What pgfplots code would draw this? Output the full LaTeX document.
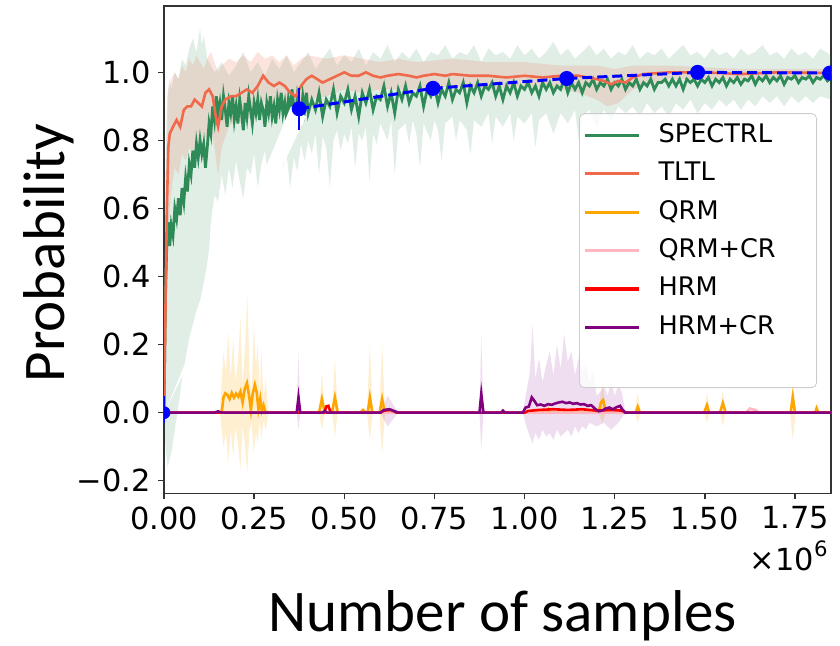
\documentclass[border=0pt]{standalone}
\usepackage{fontspec}
\setmainfont{DejaVu Sans}
\newfontfamily\carlito{Carlito}
\usepackage{pgfplots}
\pgfplotsset{compat=1.18}
\usepgfplotslibrary{fillbetween}
\definecolor{cgreen}{HTML}{2E8B57}
\definecolor{ctltl}{HTML}{F0694A}
\definecolor{cqrm}{HTML}{FFA500}
\definecolor{cqrmcr}{HTML}{FFB6C1}
\definecolor{chrm}{HTML}{FF0000}
\definecolor{chrmcr}{HTML}{800080}
\newcommand{\lentry}[1]{\hspace{7pt}\makebox[75pt][l]{#1}}
\begin{document}
\begin{tikzpicture}
\begin{axis}[
  name=ax, at={(0,0)}, anchor=south west,
  scale only axis, width=333.5pt, height=243.65pt,
  xmin=0, xmax=1.85, ymin=-0.237, ymax=1.195,
  clip marker paths=true,
  axis line style={draw=black!80, line width=0.7pt},
  every tick/.style={draw=black!80, line width=0.7pt},
  tick align=outside, major tick length=3pt,
  xtick pos=left, ytick pos=left,
  xtick={0,0.25,0.5,0.75,1.0,1.25,1.5,1.75},
  xticklabels={0.00,0.25,0.50,0.75,1.00,1.25,1.50,1.75},
  ytick={-0.2,0,0.2,0.4,0.6,0.8,1.0},
  yticklabels={−0.2,0.0,0.2,0.4,0.6,0.8,1.0},
  ticklabel style={font=\fontsize{15.2}{18}\selectfont, inner sep=3.5pt},
  xlabel={Number of samples}, ylabel={Probability},
  label style={font=\carlito\fontsize{29.5}{34}\selectfont},
  xlabel style={at={([yshift=-68.9pt]axis description cs:0.508,0)}, anchor=base},
  ylabel style={at={([xshift=-49.5pt]axis description cs:0,0.493)}, anchor=base, rotate=0},
  legend style={at={(0.979,0.78)}, anchor=north east, draw=black!20, rounded corners=2.5pt,
    fill=white, fill opacity=0.8, text opacity=1, inner xsep=2pt, inner ysep=2.8pt,
    row sep=3pt, font=\fontsize{12.8}{15}\selectfont,
    nodes={inner sep=2pt, text height=9.5pt, text depth=2.7pt}},
  legend cell align=left,
  legend image code/.code={\draw[#1, line width=1.6pt] (0pt,0pt) -- (27pt,0pt);},
]
% ---------------- SPECTRL band
\addplot[name path=gU, draw=none, forget plot] table {
x y
0.000 0.00
0.004 0.70
0.008 0.92
0.015 0.98
0.020 0.95
0.030 1.00
0.040 0.98
0.050 1.04
0.060 1.02
0.070 1.07
0.080 1.10
0.090 1.06
0.100 1.13
0.105 1.08
0.110 1.11
0.120 1.04
0.130 1.02
0.140 1.00
0.160 1.03
0.180 0.99
0.200 1.02
0.220 1.06
0.240 1.00
0.260 1.03
0.280 0.99
0.300 1.04
0.320 1.01
0.340 1.05
0.360 1.00
0.380 1.03
0.400 1.06
0.420 1.01
0.440 1.04
0.460 1.07
0.480 1.02
0.500 1.05
0.520 1.03
0.540 1.07
0.560 1.02
0.580 1.06
0.600 1.04
0.620 1.08
0.640 1.03
0.660 1.06
0.680 1.04
0.700 1.07
0.720 1.03
0.740 1.06
0.760 1.05
0.780 1.08
0.800 1.04
0.820 1.06
0.840 1.05
0.860 1.08
0.880 1.03
0.900 1.07
0.920 1.05
0.940 1.06
0.960 1.04
0.980 1.08
1.000 1.05
1.020 1.07
1.040 1.04
1.060 1.06
1.080 1.09
1.100 1.05
1.120 1.07
1.140 1.04
1.160 1.06
1.180 1.08
1.200 1.05
1.220 1.07
1.240 1.04
1.260 1.06
1.280 1.05
1.300 1.08
1.320 1.04
1.340 1.06
1.360 1.05
1.380 1.07
1.400 1.04
1.420 1.06
1.440 1.08
1.460 1.05
1.480 1.06
1.500 1.04
1.520 1.07
1.540 1.05
1.560 1.06
1.580 1.04
1.600 1.07
1.620 1.05
1.640 1.06
1.660 1.08
1.680 1.05
1.700 1.06
1.720 1.04
1.740 1.07
1.760 1.05
1.780 1.06
1.800 1.04
1.820 1.07
1.850 1.05
};
\addplot[name path=gL, draw=none, forget plot] table {
x y
0.000 0.00
0.004 -0.10
0.010 -0.16
0.020 -0.12
0.030 -0.05
0.040 0.02
0.050 0.10
0.060 0.16
0.070 0.22
0.080 0.26
0.090 0.30
0.100 0.33
0.110 0.38
0.120 0.44
0.125 0.48
0.130 0.56
0.140 0.64
0.150 0.62
0.160 0.70
0.170 0.64
0.180 0.72
0.190 0.66
0.200 0.74
0.210 0.68
0.220 0.63
0.230 0.72
0.240 0.70
0.250 0.76
0.260 0.66
0.270 0.73
0.280 0.77
0.290 0.68
0.300 0.75
0.310 0.71
0.320 0.78
0.330 0.72
0.340 0.76
0.350 0.66
0.360 0.75
0.370 0.71
0.380 0.79
0.390 0.74
0.400 0.80
0.410 0.76
0.420 0.82
0.430 0.70
0.440 0.81
0.450 0.78
0.460 0.66
0.470 0.80
0.480 0.83
0.490 0.77
0.500 0.82
0.510 0.79
0.520 0.84
0.530 0.72
0.540 0.82
0.550 0.80
0.560 0.84
0.570 0.68
0.580 0.82
0.590 0.79
0.600 0.85
0.620 0.80
0.630 0.86
0.640 0.70
0.650 0.83
0.670 0.85
0.680 0.79
0.690 0.86
0.700 0.82
0.710 0.72
0.720 0.85
0.740 0.80
0.750 0.86
0.760 0.83
0.770 0.74
0.780 0.85
0.800 0.87
0.810 0.80
0.820 0.86
0.840 0.83
0.850 0.76
0.860 0.86
0.880 0.84
0.900 0.88
0.910 0.79
0.920 0.87
0.940 0.84
0.960 0.88
0.970 0.80
0.980 0.87
1.000 0.85
1.020 0.88
1.030 0.78
1.040 0.86
1.060 0.88
1.080 0.82
1.100 0.88
1.120 0.85
1.140 0.89
1.150 0.80
1.160 0.87
1.180 0.89
1.200 0.84
1.220 0.89
1.240 0.86
1.260 0.90
1.280 0.88
1.300 0.90
1.320 0.87
1.340 0.91
1.360 0.88
1.380 0.90
1.400 0.87
1.420 0.91
1.440 0.89
1.460 0.92
1.480 0.88
1.500 0.91
1.520 0.89
1.540 0.92
1.560 0.90
1.580 0.92
1.600 0.89
1.620 0.92
1.640 0.90
1.660 0.93
1.680 0.91
1.700 0.93
1.720 0.90
1.740 0.93
1.760 0.91
1.780 0.93
1.800 0.91
1.820 0.93
1.850 0.92
};
\addplot[cgreen, fill opacity=0.15, draw=none, forget plot] fill between[of=gU and gL];
% ---------------- TLTL band
\addplot[name path=tU, draw=none, forget plot] table {
x y
0.000 0.00
0.004 0.45
0.008 0.80
0.012 0.95
0.020 0.98
0.030 1.00
0.040 0.98
0.050 1.02
0.060 1.00
0.070 1.04
0.080 1.02
0.090 1.05
0.100 1.03
0.110 1.01
0.120 1.04
0.130 1.06
0.140 1.03
0.150 1.00
0.160 1.02
0.180 1.04
0.200 1.03
0.220 1.05
0.240 1.03
0.260 1.06
0.280 1.04
0.300 1.05
0.320 1.03
0.340 1.05
0.360 1.02
0.380 1.04
0.400 1.05
0.450 1.04
0.500 1.05
0.550 1.04
0.600 1.03
0.650 1.04
0.700 1.03
0.800 1.04
0.900 1.03
1.000 1.03
1.100 1.02
1.200 1.02
1.250 1.01
1.300 1.02
1.400 1.02
1.600 1.01
1.850 1.01
};
\addplot[name path=tL, draw=none, forget plot] table {
x y
0.000 0.00
0.004 0.10
0.008 0.35
0.012 0.55
0.020 0.65
0.030 0.72
0.040 0.70
0.050 0.76
0.060 0.74
0.070 0.78
0.080 0.76
0.090 0.80
0.100 0.79
0.110 0.82
0.120 0.80
0.130 0.84
0.140 0.78
0.150 0.70
0.160 0.78
0.180 0.84
0.200 0.86
0.220 0.85
0.240 0.87
0.260 0.89
0.280 0.92
0.300 0.90
0.320 0.89
0.340 0.87
0.360 0.85
0.380 0.88
0.400 0.92
0.450 0.93
0.500 0.95
0.550 0.94
0.600 0.95
0.700 0.95
0.800 0.96
0.900 0.95
1.000 0.96
1.100 0.95
1.150 0.94
1.200 0.92
1.230 0.90
1.260 0.91
1.300 0.95
1.400 0.98
1.600 0.98
1.850 0.985
};
\addplot[ctltl, fill opacity=0.18, draw=none, forget plot] fill between[of=tU and tL];
% ---------------- QRM band
\addplot[name path=qU, draw=none, forget plot] table {
x y
0 0
0.155 0
0.165 0.18
0.172 0.12
0.178 0.24
0.185 0.10
0.192 0.22
0.198 0.09
0.205 0.15
0.212 0.28
0.218 0.08
0.225 0.20
0.231 0.35
0.237 0.12
0.243 0.05
0.249 0.26
0.255 0.14
0.260 0.20
0.266 0.05
0.270 0.18
0.276 0.04
0.282 0.10
0.290 0
0.430 0
0.438 0.12
0.446 0
0.466 0
0.474 0.16
0.482 0
0.563 0
0.571 0.20
0.579 0
0.597 0
0.605 0.20
0.613 0
1.205 0
1.216 0.09
1.226 0
1.306 0
1.314 0.06
1.322 0
1.498 0
1.506 0.06
1.514 0
1.542 0
1.550 0.07
1.558 0
1.736 0
1.744 0.10
1.752 0
1.850 0
};
\addplot[name path=qL, draw=none, forget plot] table {
x y
0 0
0.155 0
0.165 -0.10
0.172 -0.06
0.178 -0.15
0.185 -0.05
0.192 -0.13
0.198 -0.04
0.205 -0.09
0.212 -0.17
0.218 -0.04
0.225 -0.10
0.231 -0.18
0.237 -0.05
0.243 -0.03
0.249 -0.12
0.255 -0.06
0.260 -0.09
0.266 -0.02
0.270 -0.08
0.276 -0.02
0.282 -0.05
0.290 0
0.430 0
0.438 -0.05
0.446 0
0.466 0
0.474 -0.07
0.482 0
0.563 0
0.571 -0.08
0.579 0
0.597 0
0.605 -0.12
0.613 0
1.205 0
1.216 -0.03
1.226 0
1.306 0
1.314 -0.03
1.322 0
1.498 0
1.506 -0.03
1.514 0
1.542 0
1.550 -0.04
1.558 0
1.736 0
1.744 -0.08
1.752 0
1.850 0
};
\addplot[cqrm, fill opacity=0.18, draw=none, forget plot] fill between[of=qU and qL];
% ---------------- HRM+CR band
\addplot[name path=pU, draw=none, forget plot] table {
x y
0 0
0.368 0
0.373 0.18
0.378 0
0.600 0
0.620 0.05
0.650 0
0.875 0
0.880 0.23
0.886 0
0.995 0
1.005 0.06
1.015 0.12
1.022 0.26
1.030 0.10
1.040 0.16
1.050 0.09
1.060 0.14
1.070 0.18
1.080 0.11
1.090 0.20
1.100 0.13
1.110 0.23
1.120 0.15
1.130 0.18
1.140 0.11
1.150 0.16
1.160 0.12
1.170 0.14
1.180 0.09
1.190 0.12
1.200 0.05
1.210 0.06
1.220 0.08
1.230 0.05
1.240 0.09
1.250 0.05
1.260 0.08
1.270 0.06
1.280 0
1.850 0
};
\addplot[name path=pL, draw=none, forget plot] table {
x y
0 0
0.368 0
0.373 -0.05
0.378 0
0.600 0
0.620 -0.04
0.650 0
0.875 0
0.880 -0.11
0.886 0
0.995 0
1.005 -0.04
1.015 -0.07
1.022 -0.09
1.030 -0.06
1.040 -0.08
1.050 -0.05
1.060 -0.07
1.070 -0.06
1.080 -0.08
1.090 -0.05
1.100 -0.07
1.110 -0.06
1.120 -0.05
1.130 -0.07
1.140 -0.04
1.150 -0.06
1.160 -0.04
1.170 -0.05
1.180 -0.03
1.200 -0.04
1.220 -0.03
1.240 -0.05
1.260 -0.03
1.280 0
1.850 0
};
\addplot[chrmcr, fill opacity=0.13, draw=none, forget plot] fill between[of=pU and pL];
% ---------------- SPECTRL mean
\addplot[cgreen, line width=1.4pt, forget plot] table {
x y
0.000 0.00
0.004 0.35
0.008 0.50
0.012 0.56
0.016 0.49
0.020 0.55
0.025 0.52
0.030 0.60
0.035 0.57
0.040 0.63
0.045 0.58
0.050 0.66
0.055 0.62
0.060 0.69
0.065 0.65
0.070 0.73
0.075 0.70
0.080 0.77
0.085 0.72
0.090 0.79
0.095 0.75
0.100 0.80
0.105 0.76
0.110 0.79
0.115 0.72
0.120 0.78
0.125 0.85
0.130 0.82
0.135 0.90
0.140 0.86
0.145 0.93
0.150 0.88
0.155 0.91
0.160 0.86
0.165 0.93
0.170 0.89
0.175 0.84
0.180 0.91
0.185 0.88
0.190 0.93
0.195 0.86
0.200 0.90
0.205 0.85
0.210 0.92
0.215 0.88
0.220 0.83
0.225 0.91
0.230 0.87
0.235 0.93
0.240 0.89
0.245 0.85
0.250 0.91
0.255 0.88
0.260 0.92
0.265 0.86
0.270 0.91
0.275 0.89
0.280 0.84
0.285 0.91
0.290 0.88
0.295 0.93
0.300 0.87
0.305 0.90
0.310 0.85
0.315 0.92
0.320 0.89
0.325 0.94
0.330 0.88
0.335 0.91
0.340 0.86
0.345 0.92
0.350 0.89
0.355 0.95
0.360 0.90
0.365 0.86
0.370 0.93
0.375 0.90
0.380 0.87
0.385 0.93
0.390 0.89
0.395 0.94
0.400 0.88
0.410 0.92
0.420 0.89
0.430 0.94
0.440 0.87
0.450 0.92
0.460 0.90
0.470 0.95
0.480 0.88
0.490 0.93
0.500 0.91
0.510 0.95
0.520 0.89
0.530 0.93
0.540 0.87
0.550 0.94
0.560 0.91
0.570 0.95
0.580 0.89
0.590 0.93
0.600 0.92
0.610 0.96
0.620 0.90
0.630 0.94
0.640 0.88
0.650 0.95
0.660 0.92
0.670 0.96
0.680 0.91
0.690 0.94
0.700 0.93
0.710 0.96
0.720 0.90
0.730 0.95
0.740 0.93
0.750 0.96
0.760 0.91
0.770 0.95
0.780 0.93
0.790 0.97
0.800 0.92
0.810 0.95
0.820 0.94
0.830 0.97
0.840 0.91
0.850 0.96
0.860 0.94
0.870 0.97
0.880 0.93
0.890 0.96
0.900 0.95
0.910 0.97
0.920 0.93
0.930 0.96
0.940 0.92
0.950 0.96
0.960 0.94
0.970 0.97
0.980 0.93
0.990 0.96
1.000 0.95
1.010 0.97
1.020 0.94
1.030 0.96
1.040 0.93
1.050 0.97
1.060 0.95
1.070 0.97
1.080 0.94
1.090 0.96
1.100 0.95
1.110 0.98
1.120 0.94
1.130 0.97
1.140 0.95
1.150 0.97
1.160 0.94
1.170 0.97
1.180 0.96
1.190 0.98
1.200 0.95
1.210 0.97
1.220 0.96
1.230 0.98
1.240 0.95
1.250 0.97
1.260 0.96
1.270 0.98
1.280 0.95
1.290 0.97
1.300 0.96
1.310 0.98
1.320 0.95
1.330 0.97
1.340 0.96
1.350 0.98
1.360 0.95
1.370 0.97
1.380 0.97
1.390 0.98
1.400 0.96
1.410 0.98
1.420 0.96
1.430 0.98
1.440 0.95
1.450 0.98
1.460 0.97
1.470 0.98
1.480 0.96
1.490 0.98
1.500 0.97
1.510 0.985
1.520 0.96
1.530 0.98
1.540 0.97
1.550 0.985
1.560 0.96
1.570 0.98
1.580 0.97
1.590 0.985
1.600 0.965
1.610 0.98
1.620 0.975
1.630 0.99
1.640 0.965
1.650 0.985
1.660 0.975
1.670 0.99
1.680 0.97
1.690 0.985
1.700 0.975
1.710 0.99
1.720 0.965
1.730 0.985
1.740 0.98
1.750 0.99
1.760 0.97
1.770 0.985
1.780 0.98
1.790 0.99
1.800 0.97
1.810 0.985
1.820 0.98
1.830 0.99
1.840 0.975
1.850 0.985
};
% ---------------- TLTL mean
\addplot[ctltl, line width=1.3pt, forget plot] table {
x y
0.000 0.00
0.004 0.30
0.008 0.60
0.012 0.78
0.016 0.82
0.025 0.84
0.035 0.86
0.045 0.84
0.055 0.89
0.065 0.90
0.075 0.90
0.085 0.92
0.095 0.91
0.105 0.90
0.115 0.94
0.125 0.95
0.135 0.93
0.145 0.86
0.150 0.84
0.160 0.90
0.170 0.92
0.185 0.93
0.200 0.93
0.215 0.94
0.230 0.95
0.245 0.94
0.260 0.96
0.275 0.99
0.290 0.97
0.305 0.96
0.320 0.97
0.335 0.96
0.350 0.94
0.365 0.93
0.380 0.96
0.395 0.98
0.410 0.99
0.425 0.98
0.440 0.97
0.460 0.98
0.480 0.99
0.500 1.00
0.520 0.99
0.540 0.99
0.560 1.00
0.580 0.99
0.600 0.985
0.620 0.99
0.650 0.995
0.680 0.99
0.700 0.985
0.720 0.99
0.750 0.995
0.780 0.99
0.800 0.995
0.850 0.99
0.900 0.99
0.950 0.985
1.000 0.99
1.050 0.985
1.100 0.99
1.150 0.99
1.200 0.98
1.220 0.975
1.240 0.965
1.260 0.975
1.280 0.97
1.300 0.985
1.330 0.995
1.400 1.00
1.500 1.00
1.600 0.995
1.700 1.00
1.850 0.998
};
% ---------------- QRM mean
\addplot[cqrm, line width=1.3pt, forget plot] table {
x y
0.000 0
0.160 0
0.165 0.045
0.170 0.057
0.176 0.052
0.182 0.040
0.188 0.058
0.194 0.044
0.200 0.056
0.206 0.047
0.212 0.062
0.218 0.030
0.224 0.070
0.230 0.087
0.236 0.050
0.241 0.008
0.246 0.055
0.252 0.082
0.257 0.060
0.262 0.010
0.267 0.040
0.271 0.006
0.276 0.022
0.281 0.002
0.290 0
0.430 0
0.438 0.040
0.446 0
0.466 0
0.474 0.045
0.482 0
0.545 0
0.552 0.008
0.560 0
0.565 0
0.571 0.045
0.578 0
0.598 0
0.605 0.040
0.612 0
1.060 0
1.066 0.010
1.072 0
1.205 0
1.212 0.030
1.218 0.037
1.226 0
1.308 0
1.314 0.017
1.320 0
1.498 0
1.506 0.022
1.512 0
1.542 0
1.550 0.028
1.558 0
1.738 0
1.744 0.046
1.750 0
1.806 0
1.810 0.013
1.815 0
1.850 0
};
% ---------------- QRM+CR mean
\addplot[cqrmcr, line width=1.3pt, forget plot] table {
x y
0.000 0
1.615 0
1.625 0.012
1.640 0.008
1.650 0
1.850 0
};
% ---------------- HRM mean
\addplot[chrm, line width=1.3pt, forget plot] table {
x y
0.000 0
0.445 0
0.450 0.018
0.456 0.020
0.462 0
0.600 0
0.610 0.006
0.630 0.008
0.645 0
1.000 0
1.010 0.005
1.040 0.008
1.080 0.010
1.120 0.008
1.160 0.010
1.200 0.006
1.240 0.008
1.270 0.006
1.280 0
1.850 0
};
% ---------------- HRM+CR mean
\addplot[chrmcr, line width=1.3pt, forget plot] table {
x y
0.000 0
0.140 0
0.150 0.004
0.160 0
0.368 0
0.373 0.045
0.378 0
0.440 0
0.446 0.005
0.452 0
0.600 0
0.610 0.008
0.625 0.010
0.640 0.004
0.650 0
0.875 0
0.880 0.055
0.886 0
0.935 0
0.940 0.006
0.946 0
0.995 0
1.003 0.015
1.012 0.018
1.020 0.045
1.027 0.035
1.035 0.022
1.045 0.024
1.055 0.020
1.065 0.025
1.075 0.023
1.085 0.027
1.095 0.030
1.105 0.032
1.115 0.028
1.125 0.030
1.135 0.026
1.145 0.028
1.155 0.024
1.165 0.025
1.175 0.020
1.185 0.022
1.195 0.012
1.205 0.004
1.215 0.006
1.225 0.012
1.235 0.015
1.245 0.010
1.255 0.016
1.265 0.020
1.272 0.008
1.280 0
1.850 0
};
% ---------------- white wedge
\addplot[fill=white, draw=none, forget plot] coordinates {(0.0055,0.008) (0.352,0.90) (0.394,0.87)};
% ---------------- blue dashed reference
\addplot[blue, line width=1pt, forget plot] coordinates {(0.375,0.83) (0.375,0.955)};
\addplot[blue, line width=1pt, forget plot] coordinates {(0,-0.03) (0,0.05)};
\addplot[blue, only marks, mark=*, mark size=3pt, forget plot] coordinates {(0,0)};
\addplot[blue, line width=1.5pt, dash pattern=on 5pt off 2.5pt, mark=*, mark size=3pt,
  mark options={solid, fill=blue, draw=blue}, forget plot] coordinates {
(0.375,0.893) (0.746,0.953) (1.117,0.982) (1.48,1.0) (1.847,0.998)};
% ---------------- legend
\addlegendimage{cgreen}\addlegendentry{\lentry{SPECTRL}}
\addlegendimage{ctltl}\addlegendentry{\lentry{TLTL}}
\addlegendimage{cqrm}\addlegendentry{\lentry{QRM}}
\addlegendimage{cqrmcr}\addlegendentry{\lentry{QRM+CR}}
\addlegendimage{chrm}\addlegendentry{\lentry{HRM}}
\addlegendimage{chrmcr}\addlegendentry{\lentry{HRM+CR}}
\addlegendimage{empty legend}\addlegendentry{}
\end{axis}
\node[anchor=base east, font=\fontsize{15.2}{18}\selectfont, inner sep=0pt] at ([xshift=-1.5pt, yshift=-38.4pt]ax.south east) {×10\raisebox{0.45em}{\fontsize{10.6}{12}\selectfont 6}};
\pgfresetboundingbox
\path (-82pt,-75.85pt) rectangle (338pt,246.65pt);
\end{tikzpicture}
\end{document}
